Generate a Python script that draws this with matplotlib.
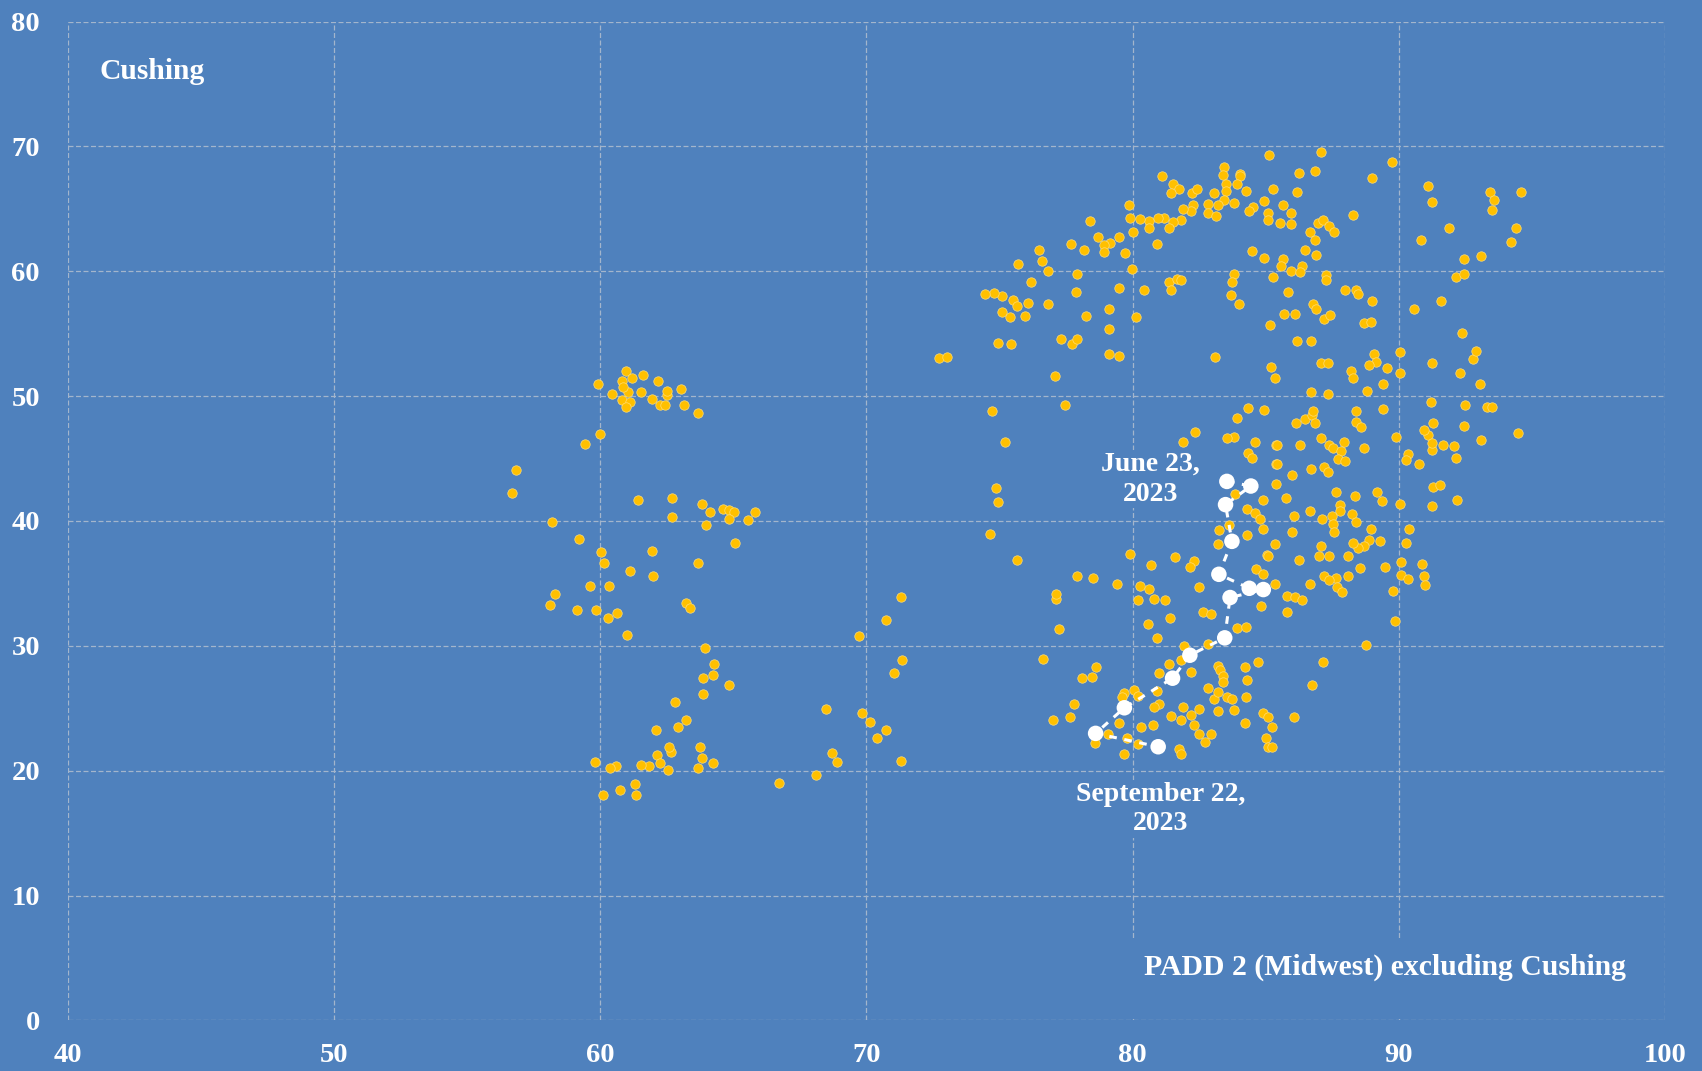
import matplotlib
matplotlib.use('Agg')
import matplotlib.pyplot as plt
from matplotlib.patches import Rectangle

# ---------------- data ----------------
# x: PADD 2 (Midwest) excluding Cushing, y: Cushing  (weekly observations)
left_x = [60.98, 61.19, 61.59, 60.81, 62.19, 59.9, 60.45, 60.81, 61.13, 60.98, 61.04, 61.53, 61.95, 62.5, 62.5,
          62.25, 62.45, 63.03, 63.15, 63.69, 60.85, 59.98, 59.43, 56.85, 56.68, 61.41, 62.68, 62.68, 63.81, 64.11,
          64.6, 64.85, 65.04, 64.83, 63.99, 65.55, 65.8, 58.18, 59.19, 65.08, 60.04, 61.95, 60.15, 61.11, 62.0,
          63.69, 58.3, 58.11, 59.61, 60.34, 59.13, 59.85, 60.28, 60.64, 63.21, 63.39, 60.99, 63.94, 64.29, 63.88,
          64.24, 64.84, 63.88, 62.8, 63.23, 62.91, 62.08, 63.75, 63.81, 64.24, 63.69, 62.66, 62.6, 62.14, 62.25,
          62.55, 61.83, 61.53, 60.58, 60.38, 59.79, 61.29, 60.75, 60.09, 61.35]
left_y = [52.0, 51.47, 51.73, 51.2, 51.2, 50.96, 50.19, 49.65, 49.52, 49.12, 50.32, 50.32, 49.79, 50.1, 50.45,
          49.25, 49.3, 50.56, 49.28, 48.64, 50.72, 46.99, 46.19, 44.05, 42.24, 41.71, 41.84, 40.32, 41.33, 40.69,
          40.96, 40.85, 40.72, 40.16, 39.68, 40.05, 40.69, 39.92, 38.53, 38.27, 37.52, 37.63, 36.61, 35.97, 35.57,
          36.61, 34.16, 33.28, 34.8, 34.8, 32.88, 32.88, 32.24, 32.61, 33.41, 33.01, 30.85, 29.84, 28.53, 27.39,
          27.65, 26.88, 26.13, 25.47, 24.05, 23.52, 23.28, 21.87, 20.99, 20.59, 20.21, 21.52, 21.87, 21.25, 20.59,
          20.08, 20.35, 20.45, 20.35, 20.21, 20.72, 18.93, 18.43, 18.05, 18.05]

mid_x = [72.71, 73.04, 74.93, 74.71, 74.88, 74.96, 74.65, 71.29, 70.75, 69.73, 71.35, 71.05, 68.48, 69.85, 70.15,
         70.75, 70.39, 68.71, 68.89, 71.29, 68.11, 66.73]
mid_y = [53.02, 53.16, 54.28, 48.8, 42.62, 41.5, 38.93, 33.9, 32.09, 30.8, 28.88, 27.86, 24.92, 24.65, 23.88,
         23.24, 22.59, 21.44, 20.67, 20.8, 19.65, 19.01]

upper_x = [81.1, 81.51, 81.76, 81.44, 82.24, 82.41, 83.45, 83.39, 84.05, 84.05, 83.5, 83.93, 83.5, 83.04, 84.24,
           83.81, 83.45, 83.2, 82.85, 82.85, 83.15, 82.25, 82.19, 81.88, 81.83, 81.53, 81.35, 81.16, 80.96, 80.63,
           80.63, 80.26, 79.9, 79.86, 80.03, 80.93, 79.73, 79.48, 79.16, 78.94, 78.94, 78.7, 78.4, 78.16, 77.68,
           76.48, 76.6, 76.84, 77.91, 75.7, 76.18, 79.96, 79.48, 80.44, 81.35, 81.66, 81.83, 81.46, 80.14, 77.86,
           78.23, 79.13, 79.13, 79.11, 79.49, 77.31, 77.74, 77.91, 77.09, 77.45, 76.84, 76.06, 75.94, 75.41, 75.1,
           75.51, 75.64, 75.1, 74.8, 74.44, 75.45, 75.21, 83.08, 83.8, 83.74, 83.69, 83.99, 84.48, 84.95, 84.53,
           84.38, 84.95, 85.08, 85.08, 85.13, 84.35, 84.95, 83.93, 83.81, 83.55, 84.59, 84.35, 84.48, 82.36, 81.88]
upper_y = [67.6, 67.01, 66.56, 66.29, 66.29, 66.59, 68.35, 67.73, 67.81, 67.6, 66.96, 66.96, 66.4, 66.29, 66.43,
           65.44, 65.68, 65.33, 65.36, 64.67, 64.4, 65.33, 64.8, 65.01, 64.13, 63.95, 63.49, 64.29, 64.27, 64.03,
           63.49, 64.16, 64.27, 65.28, 63.12, 62.21, 61.47, 62.75, 62.27, 62.13, 61.55, 62.75, 64.0, 61.71, 62.21,
           61.71, 60.83, 60.05, 59.79, 60.56, 59.15, 60.19, 58.64, 58.51, 59.17, 59.41, 59.28, 58.51, 56.35, 58.37,
           56.45, 56.99, 55.41, 53.41, 53.25, 54.56, 54.16, 54.56, 51.6, 49.28, 57.36, 57.49, 56.45, 56.35, 56.72,
           57.73, 57.2, 58.0, 58.27, 58.16, 54.16, 46.35, 53.15, 59.81, 59.12, 58.13, 57.36, 61.6, 61.07, 65.17,
           64.83, 65.65, 64.67, 64.13, 69.28, 49.04, 48.91, 48.27, 46.75, 46.61, 46.35, 45.47, 45.01, 47.12, 46.35]

right_x = [87.08, 89.73, 86.24, 86.84, 88.99, 85.28, 86.18, 85.64, 85.94, 85.53, 85.94, 86.96, 87.14, 87.39, 87.56,
           86.65, 86.84, 86.48, 86.9, 88.29, 85.64, 85.58, 85.94, 86.35, 86.3, 85.28, 87.26, 87.26, 85.83, 87.99,
           88.39, 88.45, 89.0, 86.78, 86.9, 85.69, 86.1, 87.2, 87.43, 85.16, 88.7, 88.95, 86.18, 86.71, 85.21,
           85.34, 87.09, 87.33, 89.05, 89.14, 88.89, 89.54, 88.21, 88.29, 89.39, 88.81, 90.03, 90.03, 86.71, 87.33,
           86.13, 86.48, 86.73, 86.78, 86.85, 88.39, 88.39, 88.57, 89.41, 87.09, 87.39, 87.51, 87.93, 87.81, 87.73,
           87.99, 85.4, 86.29, 85.4, 85.99, 86.71, 87.2, 87.33, 88.7, 89.89, 90.33, 90.26, 90.75, 91.23, 91.64,
           92.06, 92.13, 91.11, 90.94, 91.28, 91.23, 92.43, 93.08, 94.48, 91.21, 92.49, 93.33, 93.51, 93.03, 92.3,
           91.23, 92.79, 92.9, 92.36, 90.56, 91.59, 91.11, 91.23, 93.44, 93.56, 93.5, 94.59, 91.88, 94.4, 94.23,
           90.85, 93.08, 92.43, 92.13, 92.43]
right_y = [69.52, 68.75, 67.87, 68.0, 67.47, 66.59, 66.32, 65.31, 64.67, 63.89, 63.76, 63.89, 64.08, 63.65, 63.12,
           63.12, 62.48, 61.71, 61.31, 64.53, 60.96, 60.43, 60.05, 60.43, 59.92, 59.55, 59.68, 59.28, 58.37, 58.51,
           58.51, 58.16, 57.63, 57.39, 57.01, 56.61, 56.61, 56.21, 56.48, 55.71, 55.84, 55.95, 54.43, 54.43, 52.35,
           51.47, 52.64, 52.64, 53.41, 52.77, 52.51, 52.24, 52.0, 51.47, 50.96, 50.45, 53.52, 51.87, 50.32, 50.19,
           47.87, 48.13, 48.45, 48.83, 47.87, 48.8, 47.95, 47.55, 48.93, 46.64, 46.08, 45.84, 46.35, 45.57, 44.93,
           44.83, 46.11, 46.11, 44.56, 43.68, 44.16, 44.35, 43.92, 45.84, 46.75, 45.33, 44.88, 44.56, 45.68, 46.11,
           45.97, 45.07, 46.88, 47.28, 47.87, 46.21, 47.63, 46.48, 47.01, 49.55, 49.28, 49.15, 49.15, 50.96, 51.87,
           52.64, 52.99, 53.63, 55.07, 56.99, 57.63, 66.83, 65.55, 66.32, 65.68, 64.93, 66.32, 63.49, 63.49, 62.35,
           62.48, 61.2, 60.96, 59.55, 59.81]

lower_x = [75.64, 79.9, 80.68, 81.58, 82.29, 82.16, 77.91, 78.53, 79.41, 80.26, 80.63, 80.2, 80.8, 81.23, 77.14,
           77.14, 82.48, 81.4, 80.56, 80.93, 77.25, 82.63, 82.95, 76.65, 78.64, 78.46, 78.1, 81.94, 82.85, 81.35,
           81.83, 81.0, 82.19, 77.81, 77.01, 77.66, 79.66, 80.06, 80.2, 79.59, 80.93, 80.98, 80.8, 79.48, 79.09,
           78.6, 79.79, 80.22, 80.33, 80.75, 79.66, 81.73, 81.83, 81.45, 81.83, 81.89, 82.19, 82.31, 82.49, 82.73,
           82.95, 82.49, 82.85, 83.04, 83.21, 83.2, 83.29, 83.38, 83.39, 83.2, 83.54, 83.75, 83.81, 84.23, 84.29,
           84.24, 84.23, 84.7, 84.88, 85.0, 85.1, 83.91, 84.24, 83.86, 84.89, 84.29, 84.6, 84.79, 84.89, 84.3,
           83.63, 83.24, 83.19, 85.04, 84.63, 84.88, 84.83, 85.44, 85.44]
lower_y = [36.85, 37.39, 36.45, 37.12, 36.77, 36.32, 35.57, 35.47, 34.93, 34.8, 34.59, 33.65, 33.79, 33.65, 33.79,
           34.13, 34.69, 32.27, 31.73, 30.59, 31.33, 32.72, 32.59, 28.91, 28.27, 27.47, 27.39, 29.97, 30.11, 28.53,
           28.85, 27.79, 27.92, 25.33, 24.05, 24.32, 26.24, 26.45, 25.97, 25.92, 26.37, 25.33, 25.07, 23.79, 22.91,
           22.24, 22.64, 22.13, 23.52, 23.65, 21.36, 21.76, 21.33, 24.4, 24.05, 25.07, 24.45, 23.65, 22.93, 22.32,
           22.91, 24.91, 26.59, 25.71, 24.75, 28.37, 28.05, 27.6, 27.07, 26.32, 25.92, 25.76, 24.85, 28.27, 27.25,
           25.92, 23.79, 28.67, 24.59, 22.59, 21.92, 31.39, 31.49, 42.13, 41.71, 40.99, 40.67, 40.19, 39.39, 38.91,
           39.71, 39.25, 38.13, 37.25, 36.13, 35.73, 33.17, 46.05, 44.53]

lowright_x = [85.4, 85.76, 87.63, 87.8, 87.8, 88.35, 87.49, 88.23, 88.4, 89.19, 89.38, 90.03, 91.23, 91.3, 91.53,
              92.19, 86.66, 86.06, 87.13, 87.51, 87.56, 85.99, 88.95, 90.39, 90.26, 88.89, 88.7, 88.45, 88.29, 89.3,
              85.34, 85.1, 86.24, 87.01, 87.39, 88.1, 87.09, 88.53, 89.48, 90.09, 90.86, 90.08, 90.33, 90.93, 91.0,
              89.78, 87.2, 87.64, 87.36, 88.1, 87.68, 87.86, 86.66, 85.34, 85.79, 86.11, 86.36, 85.79, 89.84, 88.76,
              87.14, 86.73, 85.1, 86.06, 85.23, 85.23]
lowright_y = [42.99, 41.84, 42.35, 41.31, 40.8, 41.97, 40.4, 40.59, 39.92, 42.35, 41.57, 41.33, 41.2, 42.72, 42.85,
              41.71, 40.8, 40.43, 40.16, 39.79, 39.12, 39.15, 39.39, 39.39, 38.24, 38.51, 37.97, 37.87, 38.24, 38.4,
              38.13, 37.23, 36.85, 37.23, 37.23, 37.23, 38.03, 36.21, 36.32, 36.72, 36.59, 35.71, 35.39, 35.57, 34.91,
              34.43, 35.57, 35.47, 35.25, 35.57, 34.72, 34.29, 34.93, 34.93, 34.03, 33.92, 33.65, 32.75, 31.97, 30.08,
              28.67, 26.88, 24.32, 24.32, 23.52, 21.87]

# June 23, 2023 -> September 22, 2023 (highlighted weeks)
recent_x = [83.54, 84.44, 83.49, 83.73, 83.24, 84.38, 84.91, 83.66, 83.46, 82.15, 81.5, 79.69, 78.61, 80.96]
recent_y = [43.17, 42.8, 41.31, 38.37, 35.73, 34.61, 34.51, 33.87, 30.64, 29.25, 27.41, 25.04, 22.99, 21.92]

x_ticks = [40, 50, 60, 70, 80, 90, 100]
y_ticks = [0, 10, 20, 30, 40, 50, 60, 70, 80]

all_x = left_x + mid_x + upper_x + right_x + lower_x + lowright_x
all_y = left_y + mid_y + upper_y + right_y + lower_y + lowright_y

# ---------------- style ----------------
BG = '#4F81BD'
GOLD = '#FFC000'
FONT = 'Liberation Serif'

fig = plt.figure(figsize=(17.02, 10.71), dpi=100, facecolor=BG)
ax = fig.add_axes([0.0398, 0.0472, 0.9385, 0.9327])
ax.set_facecolor(BG)
ax.set_xlim(40, 100)
ax.set_ylim(0, 80)
ax.set_xticks(x_ticks)
ax.set_yticks(y_ticks)
ax.set_axisbelow(True)
ax.grid(True, color='#a3b5cc', lw=0.9, ls=(0, (4, 2)))
for s in ax.spines.values():
    s.set_visible(False)
ax.tick_params(axis='both', length=0, colors='white')
ax.tick_params(axis='x', pad=16)
ax.tick_params(axis='y', pad=20)
for lab in ax.get_xticklabels() + ax.get_yticklabels():
    lab.set_fontfamily(FONT)
    lab.set_fontweight('bold')
    lab.set_fontsize(20.5)
    lab.set_color('white')

ax.scatter(all_x, all_y, s=46, c=GOLD, edgecolors='#ffdd77', linewidths=0.5, zorder=3)

ax.plot(recent_x, recent_y, color='white', lw=2.2, ls=(0, (2.5, 2.5)), zorder=4)
ax.scatter(recent_x, recent_y, s=125, c='white', edgecolors='none', zorder=5)

# label box covering gridlines
ax.add_patch(Rectangle((79.6, 0.15), 20.1, 6.3, facecolor=BG, edgecolor='none', zorder=2))

txt = dict(color='white', fontfamily=FONT, fontweight='bold')
ax.text(41.2, 76.0, 'Cushing', ha='left', va='center', zorder=6, fontsize=21.3, **txt)
ax.text(98.52, 4.28, 'PADD 2 (Midwest) excluding Cushing', ha='right', va='center', zorder=6,
        fontsize=21.4, **txt)
box = dict(facecolor=BG, edgecolor='none', pad=1)
ax.text(80.66, 43.35, 'June 23,\n2023', ha='center', va='center', linespacing=1.25,
        bbox=box, zorder=6, fontsize=20, **txt)
ax.text(81.04, 16.93, 'September 22,\n2023', ha='center', va='center', linespacing=1.25,
        bbox=box, zorder=6, fontsize=20, **txt)

fig.savefig('out.png', dpi=100, facecolor=BG)
